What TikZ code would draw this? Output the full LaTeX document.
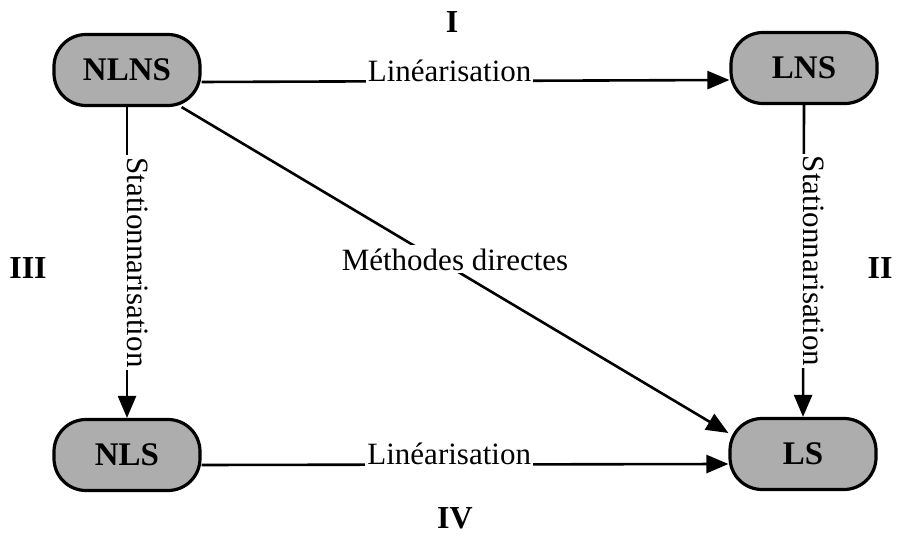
\documentclass[tikz,border=0pt]{standalone}
\usepackage{fontspec}
\setmainfont{Liberation Serif}
\usetikzlibrary{arrows.meta}

\begin{document}
\begin{tikzpicture}[
  x=0.5pt, y=-0.5pt,
  font=\fontsize{15.5}{18}\selectfont,
  sys/.style={rectangle, rounded corners=16pt, draw=black, line width=1.6pt,
              minimum width=73pt, minimum height=35.5pt, fill=black!32,
              font=\fontsize{16.5}{19}\selectfont\bfseries},
  num/.style={font=\fontsize{16}{18}\selectfont\bfseries},
  lbl/.style={fill=white, inner xsep=1pt, inner ysep=1.5pt, anchor=base},
  arr/.style={-{Triangle[length=11pt,width=9pt]}, line width=1.3pt}
]
\useasboundingbox (0,0) rectangle (904,539);

\node[sys] (nlns) at (127, 70) {NLNS};
\node[sys] (lns)  at (804, 68) {LNS};
\node[sys] (nls)  at (127,455) {NLS};
\node[sys] (ls)   at (803,454) {LS};

\node[num] (q1) at (452, 22) {I};
\node[num] (q2) at (880,268) {II};
\node[num] (q3) at ( 28,268) {III};
\node[num] (q4) at (455,518) {IV};

\draw[arr] ([yshift=-6pt]nlns.east) -- node[lbl, pos=0.47] {Linéarisation} ([yshift=-6pt]lns.west);
\draw[arr] ([yshift=-5pt]nls.east) -- node[lbl, pos=0.47] {Linéarisation} ([yshift=-5pt]ls.west);
\draw[arr] (nlns.south) -- node[lbl, rotate=-90] {Stationnarisation} (nls.north);
\draw[arr] (lns.south) -- node[lbl, rotate=-90] {Stationnarisation} (ls.north);
\draw[arr] ([xshift=-10pt]nlns.south east) -- node[lbl, pos=0.5] {Méthodes directes} ([yshift=10.5pt]ls.west);
\end{tikzpicture}
\end{document}
